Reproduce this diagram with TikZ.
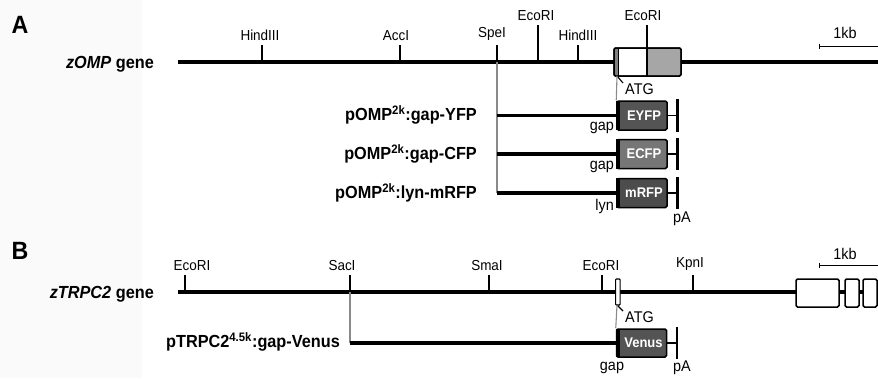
\documentclass[tikz,border=0pt]{standalone}
\usepackage{fontspec}
\setmainfont[FakeStretch=0.93]{Liberation Sans}
\definecolor{fpdark}{HTML}{545454}
\definecolor{fplight}{HTML}{767676}
\definecolor{fpred}{HTML}{4C4C4C}
\definecolor{exgray}{HTML}{A6A6A6}
\definecolor{guidegray}{HTML}{8A8A8A}
\begin{document}
\begin{tikzpicture}[x=1pt,y=-1pt,
  gene/.style={line width=3.4pt},
  tickmark/.style={line width=1.7pt},
  guide/.style={draw=guidegray,line width=1.1pt},
  site/.style={font=\fontsize{14.5}{15}\selectfont,anchor=south,inner xsep=0pt,inner ysep=4pt},
  panel/.style={font=\bfseries\fontsize{25}{26}\selectfont,inner sep=0pt},
  genename/.style={font=\bfseries\fontsize{17.5}{18}\selectfont,anchor=east,inner sep=0pt},
  construct/.style={font=\bfseries\fontsize{17.5}{18}\selectfont,anchor=east,inner sep=0pt},
  fpbox/.style={draw,line width=1.5pt,rounded corners=1.5pt,minimum width=50pt,
    minimum height=29pt,inner sep=0pt,text=white,font=\bfseries\fontsize{14}{15}\selectfont},
  pabar/.style={line width=2.8pt},
  note/.style={font=\fontsize{15.5}{16}\selectfont,inner sep=0pt},
  exonbox/.style={draw,line width=1.5pt,rounded corners=1.5pt,fill=white,inner sep=0pt},
  scalebar/.style={line width=1pt},
]
\useasboundingbox (0,0) rectangle (878,378);
\fill[black!2] (0,0) rectangle (142,378);

% ---------------- A: zOMP ----------------
\node[panel] (A) at (20,25) {A};
\node[genename] (gA) at (154,64) {\textit{zOMP} gene};
\coordinate (aL) at (178,62);
\coordinate (aR) at (878,62);
\draw[gene] (aL) -- (aR);

% restriction sites: name / tick x / tick top / label x / label
\foreach \n/\x/\yt/\lx/\lab in {a1/262/45/260/HindIII, a2/400/45/396/AccI,
    a3/497/45/492/SpeI, a4/538/25/536/EcoRI, a5/578/45/578/HindIII}{
  \coordinate (\n) at (\x,62);
  \node[site] (\n-l) at (\lx,\yt) {\lab};
  \draw[tickmark] (\n) -- (\x,\yt);
}

% exon with ATG
\node[exonbox,minimum width=67pt,minimum height=28pt] (exA) at (647.5,62) {};
\fill[exgray] (647,48.6) rectangle (680.4,75.4);
\fill[black!50] (614.6,48.6) rectangle (618,75.4);
\draw[line width=1pt] (618,48) -- (618,76);
\draw[line width=1.3pt] (647,48) -- (647,76);
\node[exonbox,fill=none,minimum width=67pt,minimum height=28pt] at (647.5,62) {};
\coordinate (a6) at (647,48);
\node[site] (a6-l) at (643,25) {EcoRI};
\draw[tickmark] (a6) -- (647,25);
\coordinate (atgA) at (617,76);
\node[note,anchor=west] (atgAl) at (625,89) {ATG};
\draw[line width=1.1pt] (atgA) -- (623,83);

% scale bar
\coordinate (sbA1) at (819,46);
\coordinate (sbA2) at (878,46);
\draw[scalebar] (sbA1) -- (sbA2);
\draw[scalebar] (819,43.5) -- (819,48.5);
\node[note] (kbA) at (845,33) {1kb};

% constructs
\node[fpbox,fill=fpdark] (yfp) at (642,115.5) {\hspace*{4pt}EYFP};
\node[fpbox,fill=fplight] (cfp) at (642,154) {\hspace*{4pt}ECFP};
\node[fpbox,fill=fpred] (rfp) at (642,193) {\hspace*{4pt}mRFP};
\foreach \b in {yfp,cfp,rfp}{
  \fill ([yshift=-0.6pt]\b.north west) rectangle ([xshift=4pt,yshift=0.6pt]\b.south west);
  \coordinate (\b-pa) at ([xshift=10pt]\b.east);
  \draw[line width=1.7pt] (\b.east) -- (\b-pa);
  \draw[pabar] ([yshift=1pt]\b-pa |- \b.north) -- ([yshift=-1pt]\b-pa |- \b.south);
}
\coordinate (speiY) at (497,115.5);
\coordinate (speiC) at (497,154);
\coordinate (speiR) at (497,193);
\draw[guide] (a3) -- (speiR);
\draw[guide] (atgA) -- (yfp.north west);
\draw[gene] (speiY) -- (yfp.west);
\draw[gene] (speiC) -- (cfp.west);
\draw[gene] (speiR) -- (rfp.west);
\node[construct] (nyfp) at (477,115) {pOMP\textsuperscript{2k}:gap-YFP};
\node[construct] (ncfp) at (477,154) {pOMP\textsuperscript{2k}:gap-CFP};
\node[construct] (nrfp) at (477,193) {pOMP\textsuperscript{2k}:lyn-mRFP};
\node[note,anchor=east] (gap1) at (614,128) {gap};
\node[note,anchor=east] (gap2) at (614,167) {gap};
\node[note,anchor=east] (lyn) at (614,206) {lyn};
\node[note] (paA) at (682,219) {pA};

% ---------------- B: zTRPC2 ----------------
\node[panel] (B) at (20,251) {B};
\node[genename] (gB) at (154,294) {\textit{zTRPC2} gene};
\coordinate (bL) at (178,292);
\coordinate (bR) at (878,292);
\draw[gene] (bL) -- (bR);

\foreach \n/\x/\lx/\lab in {b1/185/192/EcoRI, b2/350/342/SacI, b3/489/487/SmaI,
    b4/602/601/EcoRI, b5/693/690/KpnI}{
  \coordinate (\n) at (\x,292);
  \node[site] (\n-l) at (\lx,275) {\lab};
  \draw[tickmark] (\n) -- (\x,275);
}

% first exon with ATG
\node[exonbox,minimum width=4.5pt,minimum height=26pt,line width=1.1pt,rounded corners=0.8pt] (exB) at (617.8,292) {};
\coordinate (atgB) at (617,305);
\node[note,anchor=west] (atgBl) at (625,317) {ATG};
\draw[line width=1.1pt] (atgB) -- (623,311);

% downstream exons
\node[exonbox,minimum width=43pt,minimum height=28pt] (exB2) at (817.5,293) {};
\node[exonbox,minimum width=14pt,minimum height=28pt] (exB3) at (852,293) {};
\node[exonbox,minimum width=14pt,minimum height=28pt] (exB4) at (870,293) {};

% scale bar
\coordinate (sbB1) at (819,265);
\coordinate (sbB2) at (878,265);
\draw[scalebar] (sbB1) -- (sbB2);
\draw[scalebar] (819,262.5) -- (819,267.5);
\node[note] (kbB) at (845,254) {1kb};

% construct
\node[fpbox,fill=fpdark,minimum height=28pt] (ven) at (641.5,343) {\hspace*{4pt}Venus};
\fill ([yshift=-0.6pt]ven.north west) rectangle ([xshift=4pt,yshift=0.6pt]ven.south west);
\coordinate (ven-pa) at (677,343);
\draw[line width=1.7pt] (ven.east) -- (ven-pa);
\draw[pabar] ([yshift=1pt]ven-pa |- ven.north) -- ([yshift=-1pt]ven-pa |- ven.south);
\coordinate (sacV) at (350,343);
\draw[guide] (b2) -- (sacV);
\draw[guide] (atgB) -- (ven.north west);
\draw[gene] (sacV) -- (ven.west);
\node[construct] (nven) at (340,342) {pTRPC2\textsuperscript{4.5k}:gap-Venus};
\node[note] (gapB) at (612,368) {gap};
\node[note] (paB) at (682,368) {pA};
\end{tikzpicture}
\end{document}
